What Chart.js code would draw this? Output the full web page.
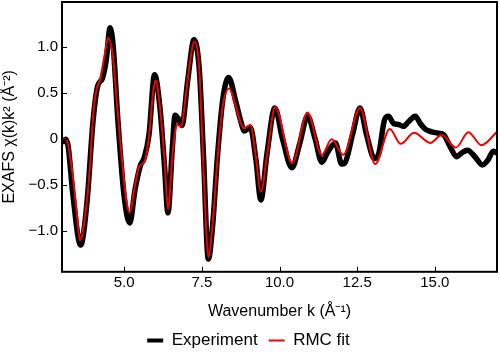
<!DOCTYPE html>
<html>
<head>
<meta charset="utf-8">
<script src="https://cdn.jsdelivr.net/npm/chart.js@4/dist/chart.umd.min.js"></script>
<style>
  html, body { margin: 0; padding: 0; background: #fff; }
  #wrap { width: 500px; height: 356px; }
</style>
</head>
<body>
<div id="wrap"><canvas id="c" width="500" height="356"></canvas></div>
<script>
// Experimental EXAFS chi(k)k^2
const kExp = [3.0, 3.12, 3.2, 3.35, 3.6, 3.8, 4.0, 4.15, 4.3, 4.42, 4.55, 4.65, 4.8, 5.0, 5.18, 5.35, 5.52, 5.65, 5.8, 5.98,
  6.15, 6.3, 6.41, 6.55, 6.64, 6.75, 6.86, 7.05, 7.25, 7.42, 7.55, 7.71, 7.85, 8.0, 8.17, 8.36, 8.6, 8.75, 8.87, 9.06,
  9.24, 9.4, 9.6, 9.85, 10.1, 10.4, 10.65, 10.9, 11.15, 11.36, 11.55, 11.8, 12.0, 12.1, 12.35, 12.59, 12.8, 13.06, 13.2, 13.38,
  13.51, 13.67, 13.83, 13.99, 14.15, 14.37, 14.53, 14.69, 14.9, 15.12, 15.28, 15.49, 15.7, 15.86, 16.05, 16.29, 16.53, 16.72, 16.88, 17.0];
const chiExp = [-0.04, 0.0, -0.08, -0.6, -1.15, -0.7, 0.2, 0.58, 0.66, 0.85, 1.21, 1.0, 0.2, -0.62, -0.91, -0.55, -0.29, -0.2, 0.05, 0.70,
  0.35, -0.3, -0.80, -0.1, 0.26, 0.22, 0.15, 0.65, 1.08, 0.75, -0.15, -1.30, -0.93, -0.2, 0.42, 0.67, 0.4, 0.2, 0.09, 0.13,
  -0.22, -0.66, -0.15, 0.34, 0.0, -0.31, -0.05, 0.25, 0.0, -0.25, -0.14, -0.04, -0.27, -0.26, 0.05, 0.34, 0.05, -0.21, -0.15, 0.21,
  0.25, 0.17, 0.16, 0.14, 0.19, 0.25, 0.17, 0.11, 0.08, 0.065, 0.05, -0.08, -0.19, -0.15, -0.12, -0.19, -0.28, -0.22, -0.13, -0.15];

// RMC fit
const kFit = [3.0, 3.15, 3.31, 3.47, 3.58, 3.74, 3.9, 4.0, 4.11, 4.22, 4.38, 4.48, 4.64, 4.75, 4.91, 5.07, 5.18, 5.34, 5.48, 5.66,
  5.8, 5.93, 6.01, 6.14, 6.3, 6.41, 6.57, 6.71, 6.84, 6.94, 7.1, 7.26, 7.42, 7.53, 7.63, 7.71, 7.85, 8.01, 8.17, 8.38,
  8.6, 8.76, 8.87, 9.06, 9.24, 9.4, 9.61, 9.86, 10.41, 10.9, 11.36, 11.68, 12.05, 12.59, 13.08, 13.55, 13.9, 14.33, 14.85, 15.22,
  15.68, 16.08, 16.5, 17.0];
const chiFit = [0.01, -0.01, -0.30, -0.77, -1.10, -0.84, -0.30, 0.25, 0.54, 0.64, 0.93, 1.10, 0.90, 0.46, -0.15, -0.66, -0.80, -0.52, -0.30, -0.24,
  0.03, 0.50, 0.64, 0.39, -0.22, -0.76, -0.12, 0.16, 0.13, 0.35, 0.79, 1.06, 0.75, -0.12, -0.91, -1.28, -0.91, -0.19, 0.35, 0.55,
  0.35, 0.17, 0.12, 0.155, -0.19, -0.57, -0.15, 0.35, -0.26, 0.29, -0.17, 0.0, -0.17, 0.34, -0.27, 0.11, -0.05, 0.07, -0.04, 0.045,
  -0.09, 0.075, -0.065, 0.08];

const xTicks = [5.0, 7.5, 10.0, 12.5, 15.0];
const yTicks = [-1.0, -0.5, 0, 0.5, 1.0];
const seriesNames = ['Experiment', 'RMC fit'];

const toPts = (xs, ys) => xs.map((x, i) => ({x: x, y: ys[i]}));

const frameAndTicks = {
  id: 'frameAndTicks',
  afterDraw(chart) {
    const ctx = chart.ctx, a = chart.chartArea;
    const xs = chart.scales.x, ys = chart.scales.y;
    ctx.save();
    ctx.strokeStyle = '#000';
    ctx.lineWidth = 1;
    ctx.beginPath();
    xTicks.forEach(v => {
      const p = Math.round(xs.getPixelForValue(v)) + 0.5;
      ctx.moveTo(p, a.bottom); ctx.lineTo(p, a.bottom - 5);
    });
    yTicks.forEach(v => {
      const p = Math.round(ys.getPixelForValue(v)) + 0.5;
      ctx.moveTo(a.left, p); ctx.lineTo(a.left + 5, p);
    });
    ctx.stroke();
    ctx.lineWidth = 2;
    ctx.strokeRect(a.left, a.top, a.right - a.left, a.bottom - a.top);
    ctx.restore();
  }
};

new Chart(document.getElementById('c'), {
  type: 'line',
  data: {
    datasets: [
      {
        label: seriesNames[0],
        data: toPts(kExp, chiExp),
        borderColor: '#000',
        backgroundColor: '#000',
        borderWidth: 5.5,
        pointRadius: 0,
        cubicInterpolationMode: 'monotone',
        order: 2
      },
      {
        label: seriesNames[1],
        data: toPts(kFit, chiFit),
        borderColor: '#f00000',
        backgroundColor: '#f00000',
        borderWidth: 2,
        pointRadius: 0,
        cubicInterpolationMode: 'monotone',
        order: 1
      }
    ]
  },
  options: {
    responsive: false,
    animation: false,
    devicePixelRatio: 1,
    layout: { padding: { left: 0, right: 3, top: 2, bottom: -3 } },
    plugins: {
      tooltip: { enabled: false },
      legend: {
        position: 'bottom',
        labels: {
          color: '#000',
          font: { family: 'Liberation Sans, Arial, sans-serif', size: 17 },
          usePointStyle: true,
          pointStyle: 'line',
          pointStyleWidth: 16,
          padding: 11,
          generateLabels(chart) {
            const items = Chart.defaults.plugins.legend.labels.generateLabels(chart);
            items.sort((p, q) => p.datasetIndex - q.datasetIndex);
            items.forEach(it => { it.pointStyle = 'line'; it.lineWidth = it.datasetIndex === 0 ? 4 : 2; });
            return items;
          }
        }
      }
    },
    scales: {
      x: {
        type: 'linear',
        min: 3,
        max: 17,
        afterBuildTicks(s) { s.ticks = xTicks.map(v => ({value: v})); },
        afterFit(s) { s.paddingLeft = 0; s.paddingRight = 0; },
        grid: { display: false, drawTicks: false },
        border: { display: false },
        ticks: {
          color: '#000',
          padding: 2,
          maxRotation: 0,
          font: { family: 'Liberation Sans, Arial, sans-serif', size: 15 },
          callback: v => v.toFixed(1)
        },
        title: {
          display: true,
          text: 'Wavenumber k (Å\u207B\u00B9)',
          color: '#000',
          font: { family: 'Liberation Sans, Arial, sans-serif', size: 16 },
          padding: { top: 8, bottom: 0 }
        }
      },
      y: {
        type: 'linear',
        min: -1.44,
        max: 1.49,
        afterBuildTicks(s) { s.ticks = yTicks.map(v => ({value: v})); },
        afterFit(s) { s.width = 62; s.paddingTop = 0; s.paddingBottom = 0; },
        grid: { display: false, drawTicks: false },
        border: { display: false },
        ticks: {
          color: '#000',
          padding: 4,
          font: { family: 'Liberation Sans, Arial, sans-serif', size: 15 },
          callback: v => v === 0 ? '0' : (v < 0 ? '\u2212' + Math.abs(v).toFixed(1) : v.toFixed(1))
        },
        title: {
          display: true,
          text: 'EXAFS \u03C7(k)k\u00B2 (Å\u207B\u00B2)',
          color: '#000',
          font: { family: 'Liberation Sans, Arial, sans-serif', size: 16 },
          padding: { top: 0, bottom: 0 }
        }
      }
    }
  },
  plugins: [frameAndTicks]
});
</script>
</body>
</html>
